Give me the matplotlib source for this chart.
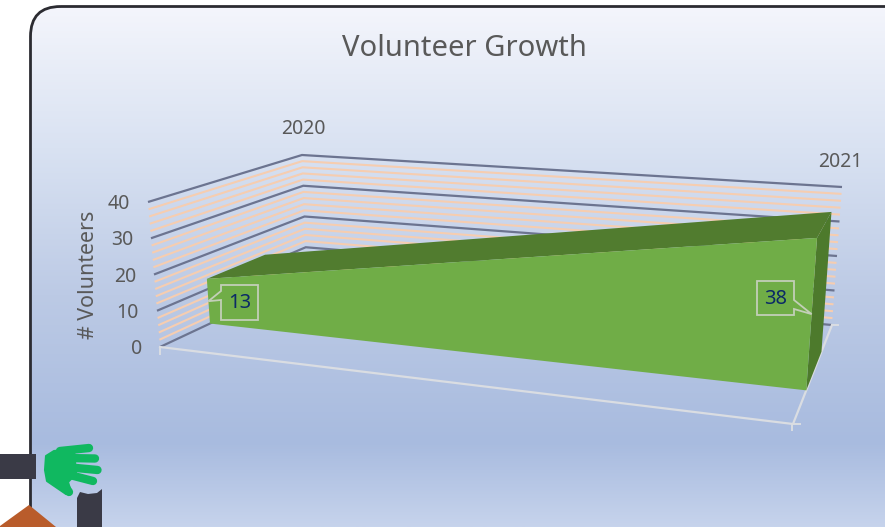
import numpy as np
import matplotlib.pyplot as plt
from matplotlib.colors import LinearSegmentedColormap
from matplotlib.patches import FancyBboxPatch, Polygon

years = ['2020', '2021']
volunteers = [13, 38]
major_ticks = [0, 10, 20, 30, 40]
minor_ticks = [v for v in range(0, 41, 2) if v % 10 != 0]
title = 'Volunteer Growth'
ylabel = '# Volunteers'

# projected corners of the 3d box, in figure pixels: (category, depth)
FLOOR = {(0, 0): (160, 347), (0, 1): (307, 278), (1, 1): (832, 325), (1, 0): (793, 424)}
TOP = {(0, 0): (148, 202), (0, 1): (302, 155), (1, 1): (842, 187), (1, 0): (805, 252)}
YMAX = 40
DEPTH_FRONT = 0.34
DEPTH_BACK = 0.73

GRID_DARK = '#6c7490'
GRID_MINOR = '#f6cdb0'
FLOOR_LINE = '#dadde2'
TEXT_GREY = '#595959'
LABEL_BLUE = '#0b2a66'
BOX_EDGE = '#c3cfb8'
DARK_ICON = '#3a3a46'
HAND_GREEN = '#10b860'

plt.rcParams['font.family'] = ['Noto Sans', 'DejaVu Sans']


def bilinear(corners, x, z):
    c = np.array(corners[(0, 0)], float) * (1 - x) * (1 - z)
    c = c + np.array(corners[(1, 0)], float) * x * (1 - z)
    c = c + np.array(corners[(0, 1)], float) * (1 - x) * z
    c = c + np.array(corners[(1, 1)], float) * x * z
    return c


def project(x, v, z):
    """Category position, value and depth to figure pixels."""
    floor = bilinear(FLOOR, x, z)
    top = bilinear(TOP, x, z)
    return floor + (top - floor) * v / YMAX


def draw_background(ax):
    stops = [(0.0, '#f5f6fc'), (0.28, '#d9e2f2'), (0.56, '#bccae5'),
             (0.84, '#a8bbdf'), (1.0, '#c6d3ec')]
    cmap = LinearSegmentedColormap.from_list('panel', stops)
    grad = np.linspace(0, 1, 256).reshape(-1, 1)
    im = ax.imshow(grad, cmap=cmap, extent=(0, 885, 527, 0), aspect='auto', zorder=0)
    panel = FancyBboxPatch((30.5, 6.5), 950, 700, boxstyle='round,pad=0,rounding_size=30',
                           facecolor='none', edgecolor='#2b2b31', linewidth=2, zorder=1)
    ax.add_patch(panel)
    im.set_clip_path(panel)


def draw_grid(ax):
    for ticks, color, lw in ((minor_ticks, GRID_MINOR, 1.5), (major_ticks, GRID_DARK, 1.6)):
        for v in ticks:
            pts = np.array([project(0, v, 0), project(0, v, 1), project(1, v, 1)])
            ax.plot(pts[:, 0], pts[:, 1], color=color, lw=lw, zorder=2,
                    solid_capstyle='butt', solid_joinstyle='miter')

    # floor edges and their tick marks
    a, b, c = project(0, 0, 0), project(1, 0, 0), project(1, 0, 1)
    ax.plot([a[0], b[0], c[0]], [a[1], b[1], c[1]], color=FLOOR_LINE, lw=1.6, zorder=3)
    ax.plot([a[0], a[0]], [a[1], a[1] + 7], color=FLOOR_LINE, lw=1.4, zorder=3)
    ax.plot([b[0] - 1, b[0] - 1], [b[1], b[1] + 6], color=FLOOR_LINE, lw=1.4, zorder=3)
    ax.plot([b[0], b[0] + 7], [b[1], b[1]], color=FLOOR_LINE, lw=1.4, zorder=3)
    ax.plot([c[0], c[0] + 6], [c[1], c[1]], color=FLOOR_LINE, lw=1.4, zorder=3)


def draw_area(ax):
    xs = [0, 1]
    front = [project(x, 0, DEPTH_FRONT) for x in xs]
    front_top = [project(x, v, DEPTH_FRONT) for x, v in zip(xs, volunteers)]
    back = project(1, 0, DEPTH_BACK)
    back_top = [project(x, v, DEPTH_BACK) for x, v in zip(xs, volunteers)]

    ax.add_patch(Polygon([front_top[0], back_top[0], back_top[1], front_top[1]],
                         facecolor='#517c2f', edgecolor='none', zorder=4))
    ax.add_patch(Polygon([front_top[1], back_top[1], back, front[1]],
                         facecolor='#4d7a2c', edgecolor='none', zorder=4))
    ax.add_patch(Polygon([front[0], front_top[0], front_top[1], front[1]],
                         facecolor='#70ad47', edgecolor='none', zorder=5))


def draw_callout(ax, x, v, box, side):
    """Data label with its pointer on the middle of the front edge."""
    tip = project(x, v / 2, DEPTH_FRONT)
    left, top, right, bottom = box
    if side == 'left':
        outline = [(left, top), (right, top), (right, bottom), (left, bottom), (left, top + 15),
                   tip, (left, top + 6)]
    else:
        outline = [(left, top), (right, top), (right, top + 19), tuple(tip), (right, top + 28),
                   (right, bottom), (left, bottom)]
    ax.add_patch(Polygon(outline, closed=True, facecolor='none', edgecolor=BOX_EDGE,
                         linewidth=1.3, zorder=6))
    ax.text((left + right) / 2, (top + bottom) / 2 + 0.5, str(v), color=LABEL_BLUE, fontsize=14.5,
            ha='center', va='center', zorder=7)


def draw_icon(ax):
    ax.add_patch(Polygon([(0, 454), (36, 454), (36, 479), (0, 479)], facecolor=DARK_ICON,
                         edgecolor='none', zorder=8))
    ax.add_patch(Polygon([(77, 527), (77, 498), (80, 492), (88, 494), (97, 493), (102, 489), (102, 527)],
                         facecolor=DARK_ICON, edgecolor='none', zorder=8))
    ax.add_patch(Polygon([(29, 505), (56, 527), (0, 527), (0, 526)], facecolor='#b95c2b',
                         edgecolor='none', zorder=8))
    palm = [(46, 456), (54, 451), (74, 449), (76, 474), (68, 482), (71, 492), (66, 494), (47, 481), (45, 470)]
    ax.add_patch(Polygon(palm, facecolor=HAND_GREEN, edgecolor=HAND_GREEN, linewidth=1.5,
                         joinstyle='round', zorder=8))
    fingers = [((60, 451), (89, 448)), ((66, 458), (95, 458.5)), ((66, 467), (97.5, 470)),
               ((66, 474), (93, 481)), ((62, 482), (69, 492))]
    for p, q in fingers:
        ax.plot([p[0], q[0]], [p[1], q[1]], color=HAND_GREEN, lw=6, solid_capstyle='round', zorder=8)


def main():
    fig = plt.figure(figsize=(8.85, 5.27), dpi=100)
    ax = fig.add_axes([0, 0, 1, 1])
    draw_background(ax)
    draw_grid(ax)
    draw_area(ax)
    draw_callout(ax, 0, volunteers[0], (221, 285, 258, 320), 'left')
    draw_callout(ax, 1, volunteers[1], (757, 281, 794, 315), 'right')
    draw_icon(ax)

    ax.text(464, 49, title, color=TEXT_GREY, fontsize=21, ha='center', va='center')
    ax.text(88, 275, ylabel, color=TEXT_GREY, fontsize=15.4, rotation=90, ha='center', va='center')
    for v in major_ticks:
        p = project(0, v, 0)
        ax.text(p[0] - 18, p[1] + 2, str(v), color=TEXT_GREY, fontsize=14, ha='right', va='center')
    ax.text(303, 129, years[0], color=TEXT_GREY, fontsize=14, ha='center', va='center')
    ax.text(840, 162, years[1], color=TEXT_GREY, fontsize=14, ha='center', va='center')

    ax.set_xlim(0, 885)
    ax.set_ylim(527, 0)
    ax.axis('off')
    fig.savefig('out.png', dpi=100)


if __name__ == '__main__':
    main()
